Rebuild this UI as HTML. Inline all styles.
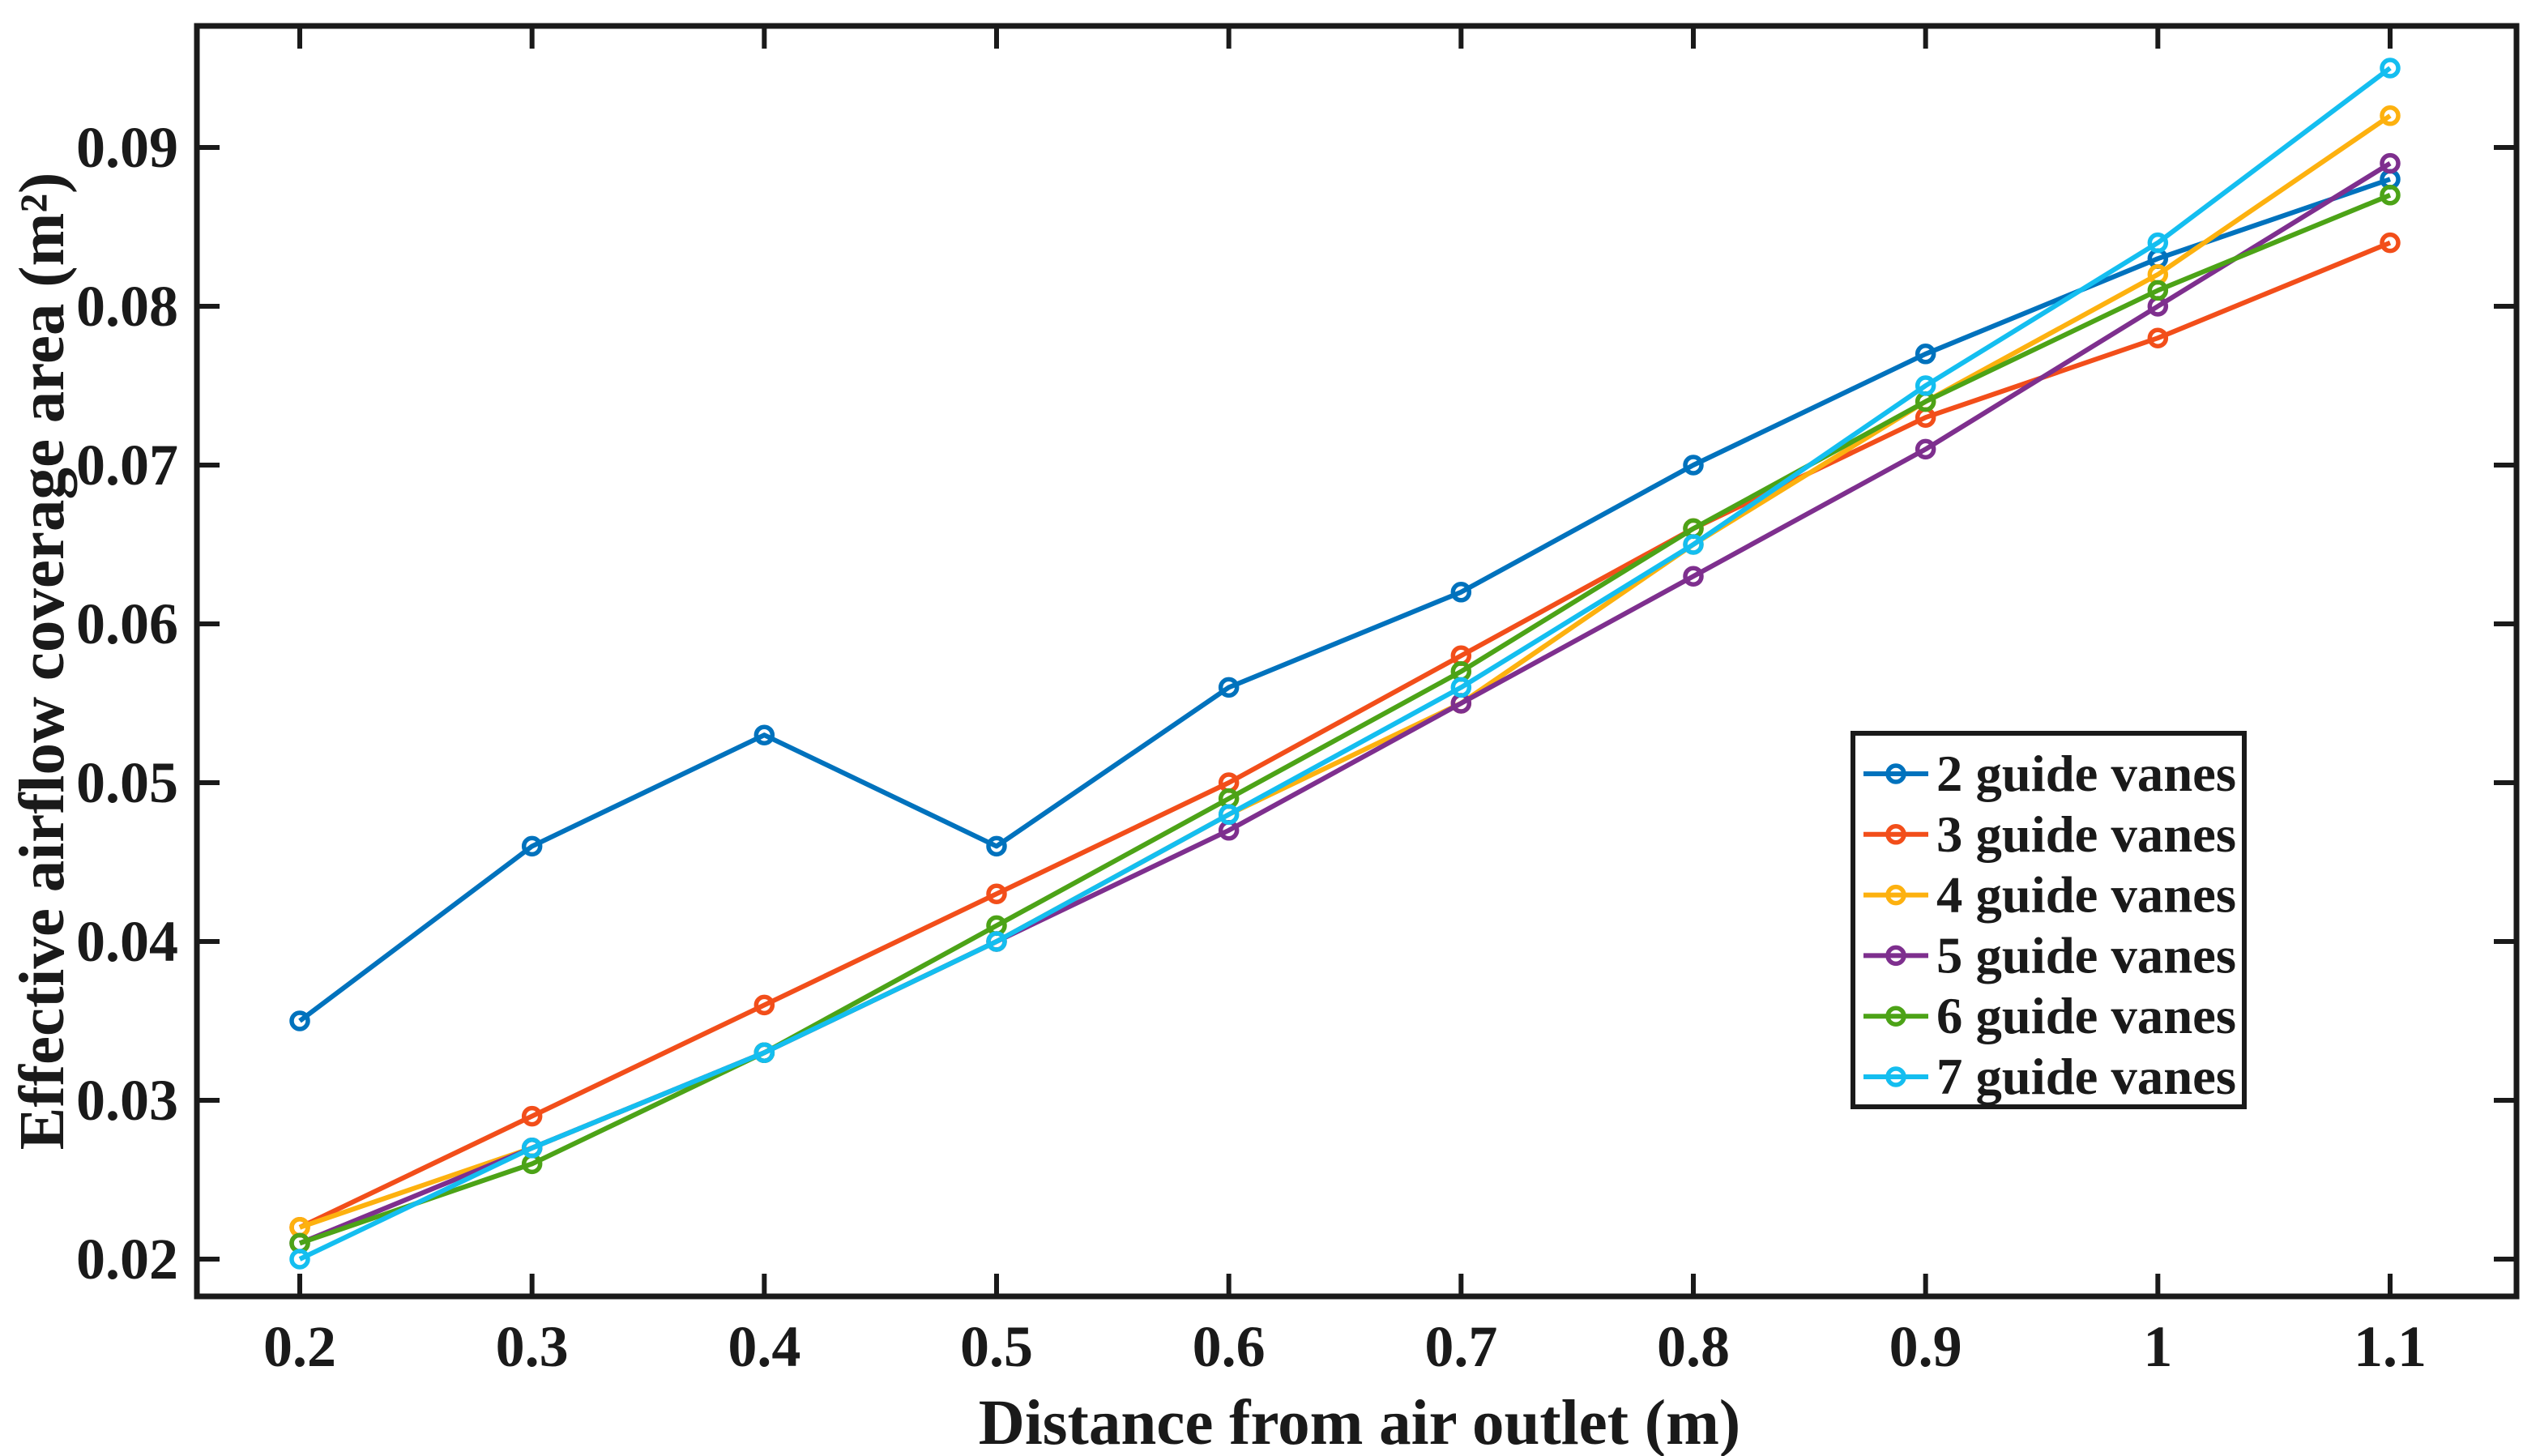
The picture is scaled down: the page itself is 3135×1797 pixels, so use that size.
<!DOCTYPE html>
<html><head><meta charset="utf-8"><style>
html,body{margin:0;padding:0;background:#fff;}
svg{display:block;}
text{font-family:"Liberation Serif",serif;font-weight:bold;fill:#1a1a1a;}
</style></head><body>
<svg id="chart" width="3135" height="1797" viewBox="0 0 3135 1797">
<rect x="0" y="0" width="3135" height="1797" fill="#fff"/>
<g id="marks"></g>
<g id="axes"></g>
<g id="legend"></g>
</svg>
<script>
const xValues = [0.2,0.3,0.4,0.5,0.6,0.7,0.8,0.9,1.0,1.1];
const xTickLabels = ["0.2","0.3","0.4","0.5","0.6","0.7","0.8","0.9","1","1.1"];
const yTicks = [0.02,0.03,0.04,0.05,0.06,0.07,0.08,0.09];
const yTickLabels = ["0.02","0.03","0.04","0.05","0.06","0.07","0.08","0.09"];
const seriesNames = ["2 guide vanes","3 guide vanes","4 guide vanes","5 guide vanes","6 guide vanes","7 guide vanes"];
const s2 = [0.035,0.046,0.053,0.046,0.056,0.062,0.070,0.077,0.083,0.088];
const s3 = [0.022,0.029,0.036,0.043,0.050,0.058,0.066,0.073,0.078,0.084];
const s4 = [0.022,0.027,0.033,0.040,0.048,0.055,0.065,0.074,0.082,0.092];
const s5 = [0.021,0.027,0.033,0.040,0.047,0.055,0.063,0.071,0.080,0.089];
const s6 = [0.021,0.026,0.033,0.041,0.049,0.057,0.066,0.074,0.081,0.087];
const s7 = [0.020,0.027,0.033,0.040,0.048,0.056,0.065,0.075,0.084,0.095];

const NS="http://www.w3.org/2000/svg";
const colors=["#0072BD","#F24E1A","#FDB10F","#7E2F8E","#4CA317","#14BEF0"];
const allSeries=[s2,s3,s4,s5,s6,s7];
const L=243,R=3106,T=32,B=1600;
const X0=370,X1=2950,Y0=1554,Y1=182;
function xs(v){return X0+(v-0.2)/(1.1-0.2)*(X1-X0);}
function ys(v){return Y0-(v-0.02)/(0.09-0.02)*(Y0-Y1);}
function mk(tag,attrs,parent){const e=document.createElementNS(NS,tag);for(const k in attrs)e.setAttribute(k,attrs[k]);parent.appendChild(e);return e;}
const marks=document.getElementById('marks'),axes=document.getElementById('axes'),legend=document.getElementById('legend');

allSeries.forEach((s,i)=>{
  const g=mk('g',{},marks);
  
  
  const pts=s.map((v,j)=>xs(xValues[j])+','+ys(v)).join(' ');
  const pl=mk('polyline',{points:pts,fill:'none',stroke:colors[i],'stroke-width':6,'stroke-linejoin':'round'},g);
  
  
  s.forEach((v,j)=>{
    const c=mk('circle',{cx:xs(xValues[j]),cy:ys(v),r:10,fill:'none',stroke:colors[i],'stroke-width':5.5},g);
    
    
  });
});

const box=mk('rect',{x:L,y:T,width:R-L,height:B-T,fill:'none',stroke:'#1a1a1a','stroke-width':7},axes);


xValues.forEach((v,j)=>{
  const x=xs(v);
  const t1=mk('line',{x1:x,y1:B,x2:x,y2:B-28,stroke:'#1a1a1a','stroke-width':6},axes);
  
  
  const t2=mk('line',{x1:x,y1:T,x2:x,y2:T+28,stroke:'#1a1a1a','stroke-width':6},axes);
  
  
  const tx=mk('text',{x:x,y:1686,'font-size':72,'text-anchor':'middle'},axes);
  tx.textContent=xTickLabels[j];
  
  
});
yTicks.forEach((v,j)=>{
  const y=ys(v);
  const t1=mk('line',{x1:L,y1:y,x2:L+28,y2:y,stroke:'#1a1a1a','stroke-width':6},axes);
  
  
  const t2=mk('line',{x1:R,y1:y,x2:R-28,y2:y,stroke:'#1a1a1a','stroke-width':6},axes);
  
  
  const tx=mk('text',{x:220,y:y+24,'font-size':72,'text-anchor':'end'},axes);
  tx.textContent=yTickLabels[j];
  
  
});
const xl=mk('text',{x:1678,y:1782,'font-size':79,'text-anchor':'middle'},axes);
xl.textContent='Distance from air outlet (m)';


const yl=mk('text',{x:0,y:0,'font-size':79,'text-anchor':'middle',transform:'translate(78,816) rotate(-90)'},axes);
yl.textContent='Effective airflow coverage area (m²)';



const lb=mk('rect',{x:2287,y:905,width:483,height:461,fill:'#fff',stroke:'#1a1a1a','stroke-width':6},legend);


seriesNames.forEach((n,i)=>{
  const y=955+i*74.8;
  const g=mk('g',{},legend);
  
  
  mk('line',{x1:2300,y1:y,x2:2380,y2:y,stroke:colors[i],'stroke-width':6},g);
  mk('circle',{cx:2340,cy:y,r:10,fill:'none',stroke:colors[i],'stroke-width':5.5},g);
  const t=mk('text',{x:2390,y:y+21,'font-size':63,textLength:370,lengthAdjust:'spacingAndGlyphs'},g);
  t.textContent=n;
});
</script>
</body></html>
